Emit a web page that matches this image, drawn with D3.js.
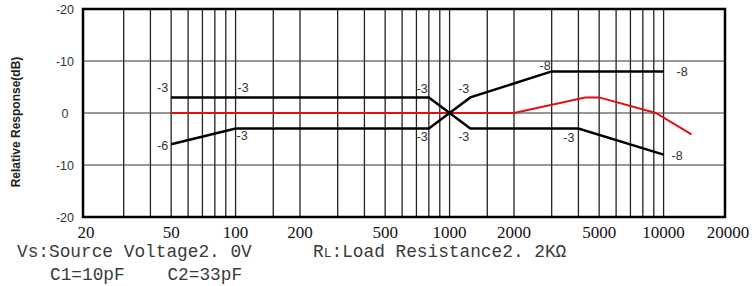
<!DOCTYPE html>
<meta charset="utf-8">
<style>
body { margin: 0; background: #fff; }
.grid { stroke: #222; stroke-width: 1.3; }
.hgrid { stroke: #333; stroke-width: 1; }
.curve { fill: none; stroke: #000; stroke-width: 2.5; }
.red { fill: none; stroke: #e01010; stroke-width: 2; }
.lbl { font-family: "Liberation Sans", Arial, sans-serif; font-size: 12.5px; fill: #333; }
.ytick { font-family: "Liberation Sans", Arial, sans-serif; font-size: 12.5px; fill: #333; }
.xtick { font-family: "Liberation Serif", "Times New Roman", serif; font-size: 17px; fill: #111; }
.note { font-family: "Liberation Mono", "Courier New", monospace; font-size: 17.8px; fill: #3a3a3a; white-space: pre; }
</style>
<body>
<script src="https://cdnjs.cloudflare.com/ajax/libs/d3/7.8.5/d3.min.js"></script>
<script>

// axis values
var xTicks = [20, 50, 100, 200, 500, 1000, 2000, 5000, 10000, 20000];
var xGrid = [30, 40, 50, 60, 70, 80, 90, 100, 150, 200, 300, 400, 500, 600, 700, 800, 900,
             1000, 1500, 2000, 3000, 4000, 5000, 6000, 7000, 8000, 9000, 10000];
var yTicks = [20, 10, 0, -10, -20];
var yTickLabels = ["-20", "-10", "0", "-10", "-20"];

// curves (Hz, dB)
var aFreq = [50, 800, 1000, 1250, 4000, 10000];
var aDb   = [3, 3, 0, -3, -3, -8];
var bFreq = [50, 100, 800, 1000, 1250, 3000, 10000];
var bDb   = [-6, -3, -3, 0, 3, 8, 8];
var rFreq = [50, 2000, 4300, 5000, 9200, 13500];
var rDb   = [0, 0, 3, 3, 0, -4.1];

// point annotations
var lblFreq = [50, 100, 50, 100, 800, 800, 1250, 1250, 3000, 10000, 4000, 10000];
var lblDb   = [3, 3, -6, -3, 3, -3, 3, -3, 8, 8, -3, -8];
var lblText = ["-3", "-3", "-6", "-3", "-3", "-3", "-3", "-3", "-8", "-8", "-3", "-8"];

var W = 754, H = 286;
var box = {left: 83, right: 725, top: 9, bottom: 217};

var x = d3.scaleLog().domain([20, 20000]).range([86, 728]);
var y = d3.scaleLinear().domain([-20, 20]).range([box.bottom, box.top]);

var svg = d3.select("body").append("svg")
    .attr("width", W)
    .attr("height", H);

// vertical grid
svg.append("g").selectAll("line")
    .data(xGrid)
  .enter().append("line")
    .attr("class", "grid")
    .attr("x1", function(d) { return x(d); })
    .attr("x2", function(d) { return x(d); })
    .attr("y1", box.top)
    .attr("y2", box.bottom);

// horizontal grid
svg.append("g").selectAll("line")
    .data([10, 0, -10])
  .enter().append("line")
    .attr("class", "hgrid")
    .attr("x1", box.left)
    .attr("x2", box.right)
    .attr("y1", function(d) { return y(d); })
    .attr("y2", function(d) { return y(d); });

var line = d3.line()
    .x(function(d) { return x(d[0]); })
    .y(function(d) { return y(d[1]); });

svg.append("path").attr("class", "red")
    .attr("d", line(d3.zip(rFreq, rDb)));
svg.append("path").attr("class", "curve")
    .attr("d", line(d3.zip(aFreq, aDb)));
svg.append("path").attr("class", "curve")
    .attr("d", line(d3.zip(bFreq, bDb)));

// frame
svg.append("rect")
    .attr("x", box.left).attr("y", box.top)
    .attr("width", box.right - box.left)
    .attr("height", box.bottom - box.top)
    .attr("fill", "none")
    .attr("stroke", "#000")
    .attr("stroke-width", 2.5);

// annotation nudges: [dx, dy, anchor]
var nudge = [[-3, -5, "end"], [2, -5, "start"], [-3, 6, "end"], [1, 11, "start"],
             [-1, -4, "end"], [-1, 12, "end"], [-1, -4, "end"], [-1, 12, "end"],
             [-1, -1, "end"], [13, 5, "start"], [-4, 13, "end"], [8, 5, "start"]];

svg.append("g").selectAll("text")
    .data(lblText)
  .enter().append("text")
    .attr("class", "lbl")
    .attr("x", function(d, i) { return x(lblFreq[i]) + nudge[i][0]; })
    .attr("y", function(d, i) { return y(lblDb[i]) + nudge[i][1]; })
    .attr("text-anchor", function(d, i) { return nudge[i][2]; })
    .text(function(d) { return d; });

// y tick labels
svg.append("g").selectAll("text")
    .data(yTicks)
  .enter().append("text")
    .attr("class", "ytick")
    .attr("x", 65)
    .attr("y", function(d) { return y(d) + 4.5; })
    .attr("text-anchor", "middle")
    .text(function(d, i) { return yTickLabels[i]; });

// x tick labels
svg.append("g").selectAll("text")
    .data(xTicks)
  .enter().append("text")
    .attr("class", "xtick")
    .attr("x", function(d) { return x(d); })
    .attr("y", 238)
    .attr("text-anchor", "middle")
    .text(function(d) { return d; });

// y axis title
svg.append("text")
    .attr("transform", "translate(20,122) rotate(-90)")
    .attr("text-anchor", "middle")
    .style("font-family", "'Liberation Sans', Arial, sans-serif")
    .style("font-size", "12px")
    .style("font-weight", "bold")
    .style("fill", "#222")
    .text("Relative Response(dB)");

// conditions
svg.append("text").attr("class", "note")
    .attr("x", 17).attr("y", 257)
    .text("Vs:Source Voltage2. 0V");

var rl = svg.append("text").attr("class", "note")
    .attr("x", 313).attr("y", 257);
rl.append("tspan").text("R");
rl.append("tspan").style("font-size", "13px").text("L");
rl.append("tspan").text(":Load Resistance2. 2KΩ");

svg.append("text").attr("class", "note")
    .attr("x", 50).attr("y", 280)
    .text("C1=10pF    C2=33pF");

</script>
</body>
